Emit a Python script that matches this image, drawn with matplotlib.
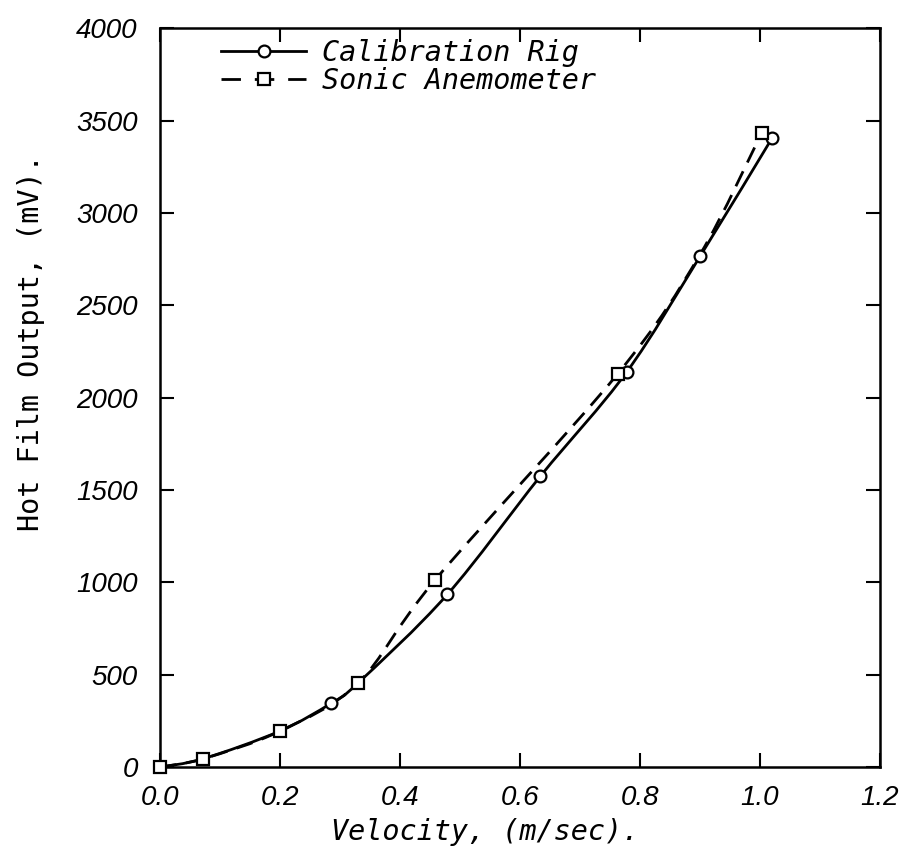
import matplotlib
matplotlib.use("Agg")
import matplotlib.pyplot as plt
from matplotlib.path import Path
from matplotlib.patches import PathPatch
from matplotlib.lines import Line2D
import numpy as np

# ---- data ----
cal_x = [0.0, 0.072, 0.200, 0.285, 0.330, 0.479, 0.634, 0.778, 0.900, 1.020]
cal_y = [0, 45, 195, 345, 455, 935, 1575, 2140, 2765, 3405]
cal_marked = [3, 5, 6, 7, 8, 9]          # circles visible (others hidden under squares)
sonic_x = [0.0, 0.072, 0.200, 0.330, 0.459, 0.763, 0.900, 1.003]
sonic_y = [0, 45, 195, 455, 1015, 2130, 2775, 3435]
sonic_marked = [0, 1, 2, 3, 4, 5, 7]     # square at 0.9 hidden under the circle
x_ticks = [0.0, 0.2, 0.4, 0.6, 0.8, 1.0, 1.2]
x_ticklabels = ["0.0", "0.2", "0.4", "0.6", "0.8", "1.0", "1.2"]
y_ticks = [0, 500, 1000, 1500, 2000, 2500, 3000, 3500, 4000]
y_ticklabels = ["0", "500", "1000", "1500", "2000", "2500", "3000", "3500", "4000"]
series_labels = ["Calibration Rig", "Sonic Anemometer"]
x_label = "Velocity, (m/sec)."
y_label = "Hot Film Output, (mV)."

tick_font = ["Liberation Sans", "DejaVu Sans"]
label_font = ["DejaVu Sans Mono", "DejaVu Sans"]


def smooth_path(xs, ys):
    """Catmull-Rom curve through the data points, as cubic Bezier path."""
    P = np.column_stack([xs, ys]).astype(float)
    n = len(P)
    verts = [P[0]]
    codes = [Path.MOVETO]
    for i in range(n - 1):
        p0 = P[i - 1] if i > 0 else P[i]
        p1 = P[i]
        p2 = P[i + 1]
        p3 = P[i + 2] if i + 2 < n else P[i + 1]
        c1 = p1 + (p2 - p0) / 6.0
        c2 = p2 - (p3 - p1) / 6.0
        verts += [c1, c2, p2]
        codes += [Path.CURVE4] * 3
    return Path(verts, codes)


fig = plt.figure(figsize=(9.11, 8.58), dpi=100)
ax = fig.add_axes([0.1756, 0.106, 0.7904, 0.861])

lw = 2.0
dash = (0, (6, 3.5))
ax.add_patch(PathPatch(smooth_path(cal_x, cal_y), fill=False, lw=lw, edgecolor="black",
                       capstyle="round", joinstyle="round", zorder=2))
ax.add_patch(PathPatch(smooth_path(sonic_x, sonic_y), fill=False, lw=lw, edgecolor="black",
                       linestyle=dash, zorder=2))
ax.plot(cal_x, cal_y, linestyle="none", marker="o", ms=8.5, mfc="white", mec="black",
        mew=1.6, markevery=cal_marked, zorder=3, clip_on=False)
ax.plot(sonic_x, sonic_y, linestyle="none", marker="s", ms=8, mfc="white", mec="black",
        mew=1.6, markevery=sonic_marked, zorder=4, clip_on=False)

ax.set_xlim(0, 1.2)
ax.set_ylim(0, 4000)
ax.set_xticks(x_ticks)
ax.set_xticklabels(x_ticklabels)
ax.set_yticks(y_ticks)
ax.set_yticklabels(y_ticklabels)
ax.tick_params(direction="in", length=10, width=1.5, top=True, right=True)
ax.tick_params(axis="x", pad=13)
ax.tick_params(axis="y", pad=16)
for lab in ax.get_xticklabels() + ax.get_yticklabels():
    lab.set_family(tick_font)
    lab.set_fontsize(20)
    lab.set_style("italic")
for s in ax.spines.values():
    s.set_linewidth(1.8)

ax.set_xlabel(x_label, family=label_font, fontsize=20.5, style="italic")
ax.xaxis.set_label_coords((485 - 160) / 720, (767 - 818) / 739)
ax.set_ylabel(y_label, family=label_font, fontsize=20.5)
ax.yaxis.set_label_coords((45 - 160) / 720, (767 - 342) / 739)

h1 = Line2D([], [], color="black", lw=lw, marker="o", ms=8.5, mfc="white", mec="black", mew=1.6)
h2 = Line2D([], [], color="black", lw=lw, linestyle=(0, (7, 5)), marker="s", ms=8,
            mfc="white", mec="black", mew=1.6)
leg = ax.legend([h1, h2], series_labels, loc="upper left", bbox_to_anchor=(0.049, 1.02),
                frameon=False, numpoints=1, handlelength=3.0, handletextpad=0.55,
                labelspacing=0.0, prop={"family": label_font, "size": 20.5, "style": "italic"})

fig.savefig("out.png", dpi=100, facecolor="white")
